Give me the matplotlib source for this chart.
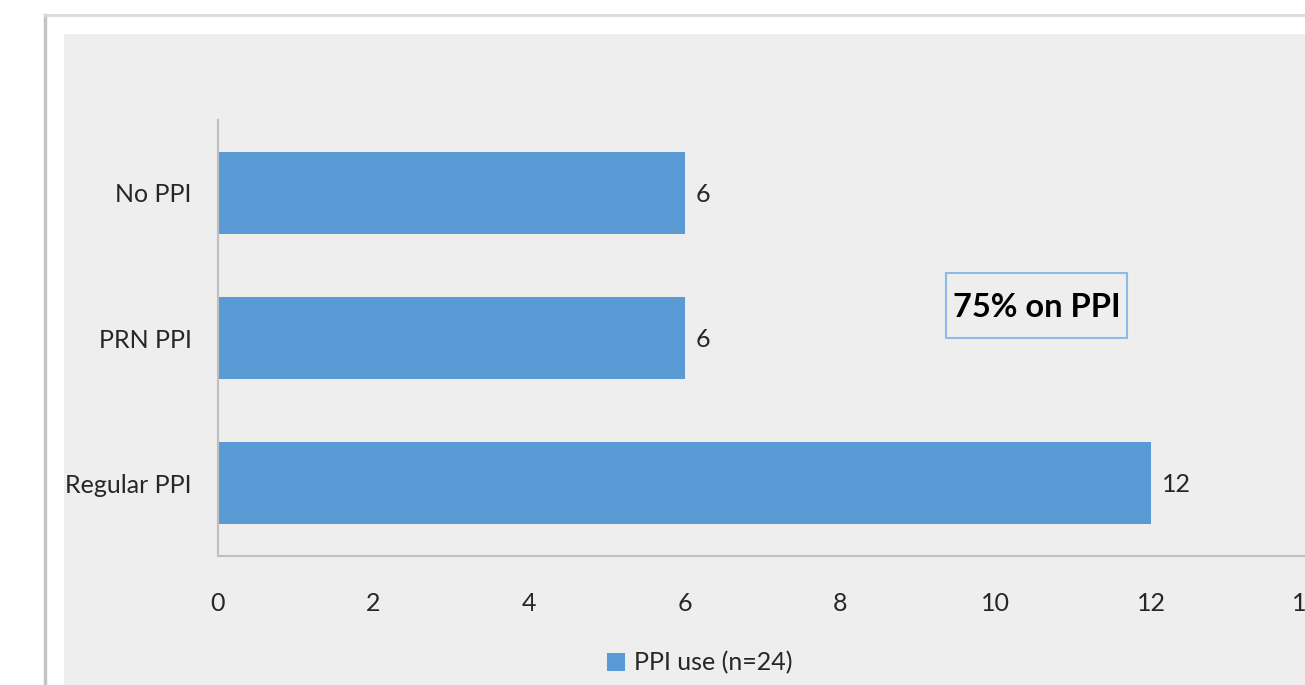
import matplotlib
matplotlib.use("Agg")
import matplotlib.pyplot as plt
from matplotlib.patches import Rectangle
from matplotlib.lines import Line2D

categories = ["Regular PPI", "PRN PPI", "No PPI"]
counts = [12, 6, 6]
series_name = "PPI use (n=24)"
x_ticks = [0, 2, 4, 6, 8, 10, 12, 14]
note = "75% on PPI"

BAR = "#5B9BD5"
PANEL = "#EEEEEE"
TXT = "#262626"

plt.rcParams["font.family"] = ["Lato", "DejaVu Sans"]

W, H = 1305, 685
fig = plt.figure(figsize=(W / 100, H / 100), dpi=100)
fig.patch.set_facecolor("white")


# pixel coords -> figure fraction
def fx(px):
    return px / W


def fy(py):
    return 1 - py / H


# outer frame and grey chart panel
fig.patches.append(Rectangle((fx(64), 0), 1 - fx(64), fy(34), transform=fig.transFigure,
                             facecolor=PANEL, edgecolor="none", zorder=-5))
fig.lines.append(Line2D([fx(45), fx(45)], [0, fy(15)], transform=fig.transFigure,
                        color="#C4C4C4", lw=2.5, zorder=-4))
fig.lines.append(Line2D([fx(45), 1], [fy(15), fy(15)], transform=fig.transFigure,
                        color="#DADADA", lw=2, zorder=-4))

ax = fig.add_axes([fx(218), fy(556), (1306.5 - 218) / W, (556 - 120) / H])
ax.set_zorder(2)
ax.set_facecolor("none")

ypos = range(len(categories))
bars = ax.barh(ypos, counts, height=0.565, color=BAR, label=series_name, zorder=2)
for b, v in zip(bars, counts):
    ax.text(b.get_width() + 0.14, b.get_y() + b.get_height() / 2 - 0.01, str(v),
            va="center", ha="left", fontsize=18, color=TXT)

ax.set_xlim(0, 14)
ax.set_ylim(-0.5, 2.5)
ax.set_yticks(list(ypos))
ax.set_yticklabels(categories)
ax.set_xticks(x_ticks)
ax.tick_params(axis="both", length=0, labelsize=18, labelcolor=TXT)
ax.tick_params(axis="x", pad=26)
ax.tick_params(axis="y", pad=19)
for s in ["top", "right"]:
    ax.spines[s].set_visible(False)
for s in ["left", "bottom"]:
    ax.spines[s].set_color("#BFBFBF")
    ax.spines[s].set_linewidth(1.5)

# text box with the overall share
ax.add_patch(Rectangle((9.36, 1.0), 2.33, 0.445, facecolor=PANEL, edgecolor="#8DBBE8",
                       lw=1.5, zorder=3))
ax.text(10.525, 1.21, note, ha="center", va="center", fontsize=23.5, fontweight="bold",
        color="black", zorder=4)

fig.legend(handles=[bars], labels=[series_name], loc="center", bbox_to_anchor=(fx(700), fy(663)),
           frameon=False, fontsize=18, handlelength=0.7, handleheight=0.7, handletextpad=0.4,
           labelcolor=TXT)

fig.savefig("out.png", dpi=100)
